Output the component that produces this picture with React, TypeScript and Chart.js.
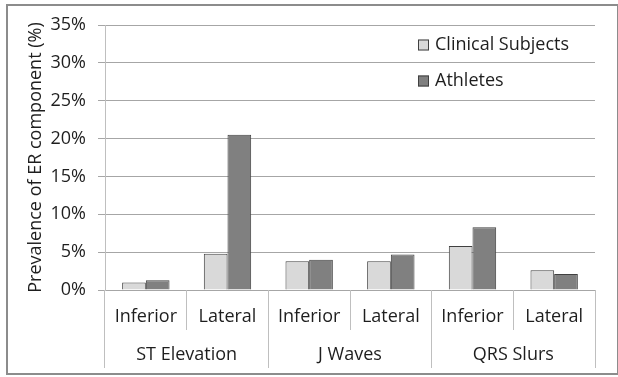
import React, { useEffect, useRef } from "react";
import { Chart, registerables } from "chart.js";

Chart.register(...registerables);

const categories = ["Inferior", "Lateral", "Inferior", "Lateral", "Inferior", "Lateral"];
const groups = ["ST Elevation", "J Waves", "QRS Slurs"];
const clinicalSubjects = [1.0, 4.8, 3.8, 3.8, 5.8, 2.6];
const athletes = [1.3, 20.5, 4.0, 4.7, 8.3, 2.1];
const seriesNames = ["Clinical Subjects", "Athletes"];

const FONT = "'Open Sans', sans-serif";
const TEXT = "#1e1e1e";
const FS = 18;

const framePlugin = {
  id: "frame",
  afterDraw(chart: any) {
    const ctx = chart.ctx;
    ctx.save();
    ctx.strokeStyle = "#8c8c8c";
    ctx.lineWidth = 2;
    ctx.strokeRect(7, 5, 611, 369);
    ctx.restore();
  },
};

const legendPlugin = {
  id: "insideLegend",
  afterDraw(chart: any) {
    const ctx = chart.ctx;
    const area = chart.chartArea;
    const x = area.left + 313;
    const ys = [area.top + 20, area.top + 56];
    ctx.save();
    chart.data.datasets.forEach((ds: any, i: number) => {
      const y = ys[i];
      ctx.fillStyle = ds.backgroundColor;
      ctx.fillRect(x, y - 5.5, 11, 11);
      ctx.strokeStyle = "#404040";
      ctx.lineWidth = 1;
      ctx.strokeRect(x + 0.5, y - 5, 10, 10);
      ctx.fillStyle = TEXT;
      ctx.font = `${FS}px ${FONT}`;
      ctx.textBaseline = "middle";
      ctx.textAlign = "left";
      ctx.fillText(ds.label, x + 17, y);
    });
    ctx.restore();
  },
};

export default function App() {
  const ref = useRef<HTMLCanvasElement>(null);
  useEffect(() => {
    if (!ref.current) return;
    const chart = new Chart(ref.current, {
      type: "bar",
      data: {
        labels: categories,
        datasets: [
          {
            label: seriesNames[0],
            data: clinicalSubjects,
            backgroundColor: "#d9d9d9",
            borderColor: "#404040",
            borderWidth: 1,
            xAxisID: "x",
          },
          {
            label: seriesNames[1],
            data: athletes,
            backgroundColor: "#808080",
            borderColor: "#404040",
            borderWidth: 1,
            xAxisID: "x",
          },
        ],
      },
      options: {
        responsive: false,
        animation: false,
        layout: { padding: { left: 15, right: 23, top: 25, bottom: 9 } },
        datasets: { bar: { categoryPercentage: 0.58, barPercentage: 1 } },
        plugins: { legend: { display: false }, tooltip: { enabled: false } },
        scales: {
          y: {
            min: 0,
            max: 35,
            ticks: {
              stepSize: 5,
              padding: 12,
              color: TEXT,
              font: { family: FONT, size: FS },
              callback: (v: any) => v + "%",
            },
            grid: { color: "#a6a6a6", tickLength: 7 },
            border: { display: true, color: "#bfbfbf" },
            title: {
              display: true,
              text: "Prevalence of ER component (%)",
              color: TEXT,
              font: { family: FONT, size: FS },
              padding: { top: 10, bottom: 0 },
            },
            afterFit: (s: any) => {
              s.width = 90;
            },
          },
          x: {
            type: "category",
            position: "bottom",
            weight: 1,
            offset: true,
            grid: { offset: true, drawOnChartArea: false, tickLength: 40, color: "#bfbfbf" },
            border: { display: false },
            ticks: { padding: -24.1, color: TEXT, font: { family: FONT, size: FS }, maxRotation: 0 },
            afterFit: (s: any) => {
              s.height = 40;
            },
          },
          x2: {
            type: "category",
            position: "bottom",
            weight: 2,
            labels: groups,
            offset: true,
            grid: { offset: true, drawOnChartArea: false, tickLength: 38, color: "#bfbfbf" },
            border: { display: false },
            ticks: { padding: -23.8, color: TEXT, font: { family: FONT, size: FS }, maxRotation: 0 },
            afterFit: (s: any) => {
              s.height = 38;
            },
          },
        },
      },
      plugins: [legendPlugin, framePlugin],
    });
    return () => chart.destroy();
  }, []);
  return (
    <div style={{ position: "absolute", left: 0, top: 0, width: 618, height: 377, background: "#fff" }}>
      <canvas ref={ref} width={618} height={377} />
    </div>
  );
}
